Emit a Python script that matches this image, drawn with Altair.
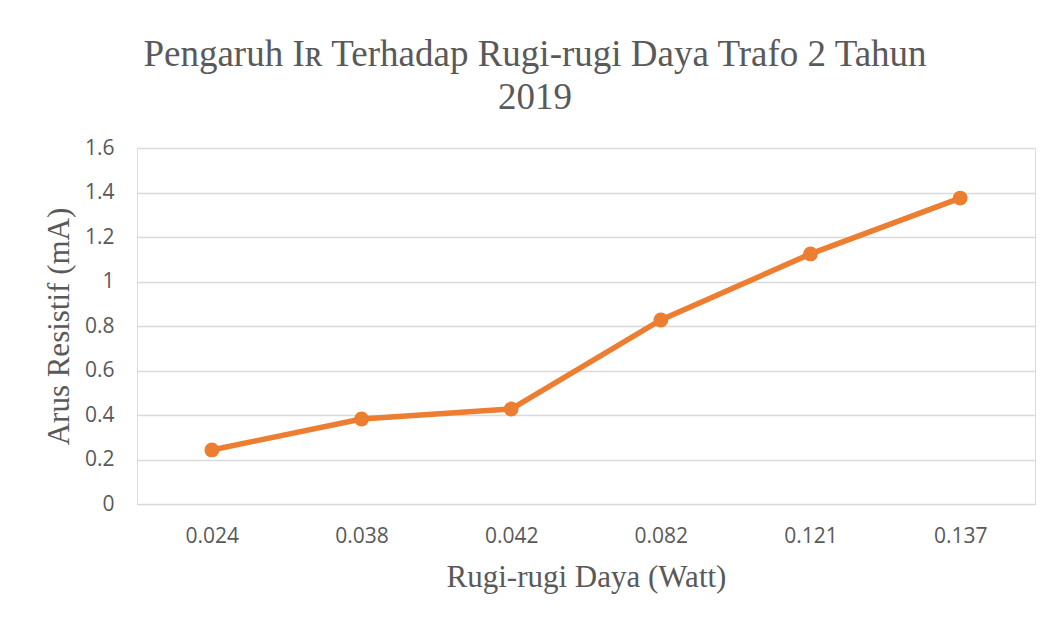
import altair as alt
import pandas as pd

losses = ["0.024", "0.038", "0.042", "0.082", "0.121", "0.137"]
current = [0.243, 0.382, 0.427, 0.827, 1.124, 1.375]

df = pd.DataFrame({"loss": losses, "current": current})

GREY = "#595959"
ORANGE = "#ED7D31"

x = alt.X(
    "loss:O",
    sort=losses,
    scale=alt.Scale(type="point", padding=0.5),
    axis=alt.Axis(
        title="Rugi-rugi Daya (Watt)",
        labelAngle=0,
        labelFont="Open Sans",
        labelFontSize=21,
        labelColor=GREY,
        labelPadding=21,
        ticks=False,
        domain=False,
        grid=False,
        titleFont="Liberation Serif",
        titleFontSize=31,
        titleFontWeight="normal",
        titleColor=GREY,
        titlePadding=16,
    ),
)
y = alt.Y(
    "current:Q",
    scale=alt.Scale(domain=[0, 1.6], nice=False),
    axis=alt.Axis(
        title="Arus Resistif (mA)",
        values=[0, 0.2, 0.4, 0.6, 0.8, 1, 1.2, 1.4, 1.6],
        format="~g",
        labelFont="Open Sans",
        labelFontSize=21,
        labelColor=GREY,
        labelPadding=23,
        ticks=False,
        domain=False,
        gridColor="#d9d9d9",
        gridWidth=1.5,
        titleFont="Liberation Serif",
        titleFontSize=31,
        titleFontWeight="normal",
        titleColor=GREY,
        titlePadding=9,
    ),
)

base = alt.Chart(df).encode(x=x, y=y)
line = base.mark_line(color=ORANGE, strokeWidth=5.5)
pts = base.mark_circle(color=ORANGE, size=220, opacity=1)

chart = (
    alt.layer(line, pts)
    .properties(
        width=898,
        height=356,
        title=alt.TitleParams(
            text=["Pengaruh Iʀ Terhadap Rugi-rugi Daya Trafo 2 Tahun", "2019"],
            font="Liberation Serif",
            fontSize=37,
            fontWeight="normal",
            color=GREY,
            anchor="middle",
            frame="group",
            dx=-51,
            lineHeight=43,
            offset=20,
        ),
        autosize=alt.AutoSizeParams(type="none"),
        padding={"left": 129, "top": 140, "right": 14, "bottom": 100},
    )
    .configure_view(stroke=None)
    .configure(background="white")
)

chart.save("out.html", embed_options={"renderer": "svg", "actions": False})
